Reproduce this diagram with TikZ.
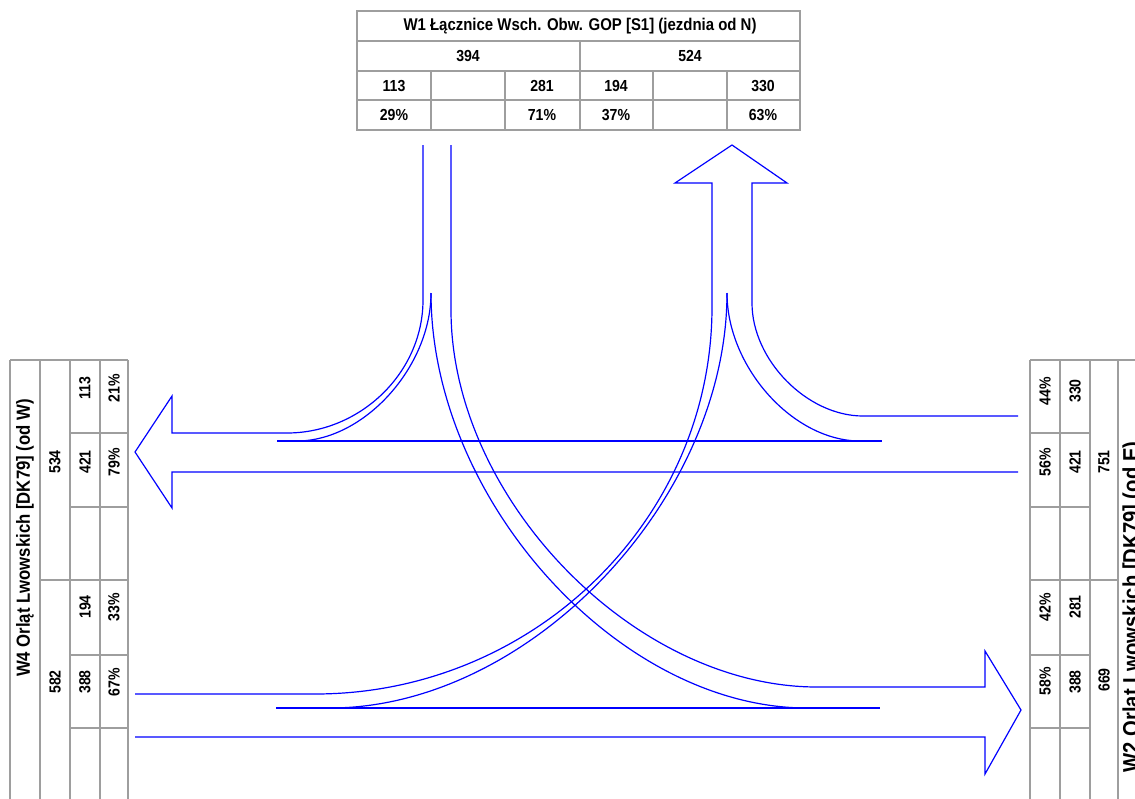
\documentclass[tikz,border=0pt]{standalone}
\usepackage{fontspec}
\setmainfont{Liberation Sans}[FakeStretch=0.88]

\begin{document}
\begin{tikzpicture}[
                  x = 1pt, y = -1pt,
                  font    = \bfseries\fontsize{16}{18}\selectfont,
                  tab/.style  = {line width=1.3pt, black!38},
                  pas/.style  = {line width=1.2pt, blue},
                  num/.style  = {inner sep=0pt},
                  rnum/.style = {inner sep=0pt, rotate=90},
                  tyt/.style  = {inner sep=0pt, font=\bfseries\fontsize{17}{19}\selectfont},
                  rtyt/.style = {inner sep=0pt, rotate=90, font=\bfseries\fontsize{19}{21}\selectfont}
            ]
            \useasboundingbox (0,0) rectangle (1135,798);
            \clip (0,0) rectangle (1135,798);

            % tabela wlotu W1 (od N)
            \draw[tab] (357,11) rectangle (800,130);
            \draw[tab] (357,41) -- (800,41) (357,71) -- (800,71) (357,100) -- (800,100);
            \draw[tab] (580,41) -- (580,130);
            \foreach \x in {431,505,653,727} \draw[tab] (\x,71) -- (\x,130);

            \node[tyt] (w1)    at (580,26) {W1 Łącznice Wsch. Obw. GOP [S1] (jezdnia od N)};
            \node[num] (w1we)  at (468,56) {394};
            \node[num] (w1wy)  at (690,56) {524};
            \node[num] (w1l)   at (394,86) {113};
            \node[num] (w1p)   at (542,86) {281};
            \node[num] (w1ln)  at (616,86) {194};
            \node[num] (w1pn)  at (763,86) {330};
            \node[num] (w1lp)  at (394,115) {29\%};
            \node[num] (w1pp)  at (542,115) {71\%};
            \node[num] (w1lnp) at (616,115) {37\%};
            \node[num] (w1pnp) at (763,115) {63\%};

            % tabela wlotu W4 (od W)
            \draw[tab] (10,360) -- (128,360);
            \foreach \x in {10,40,70,100,128} \draw[tab] (\x,360) -- (\x,800);
            \draw[tab] (40,580) -- (128,580);
            \foreach \y in {433,507,655,728} \draw[tab] (70,\y) -- (128,\y);

            \node[rtyt] (w4)   at (25,538) {W4 Orląt Lwowskich [DK79] (od W)};
            \node[rnum] (w4wy) at (55,462) {534};
            \node[rnum] (w4we) at (55,682) {582};
            \node[rnum] (w4a)  at (85,388) {113};
            \node[rnum] (w4b)  at (85,462) {421};
            \node[rnum] (w4c)  at (85,607) {194};
            \node[rnum] (w4d)  at (85,682) {388};
            \node[rnum] (w4ap) at (114,388) {21\%};
            \node[rnum] (w4bp) at (114,462) {79\%};
            \node[rnum] (w4cp) at (114,607) {33\%};
            \node[rnum] (w4dp) at (114,682) {67\%};

            % tabela wlotu W2 (od E)
            \draw[tab] (1030,360) -- (1135,360);
            \foreach \x in {1030,1060,1090,1118} \draw[tab] (\x,360) -- (\x,800);
            \draw[tab] (1030,580) -- (1118,580);
            \foreach \y in {433,507,655,728} \draw[tab] (1030,\y) -- (1090,\y);

            \node[rnum] (w2ap) at (1045,391) {44\%};
            \node[rnum] (w2bp) at (1045,462) {56\%};
            \node[rnum] (w2cp) at (1045,607) {42\%};
            \node[rnum] (w2dp) at (1045,681) {58\%};
            \node[rnum] (w2a)  at (1075,391) {330};
            \node[rnum] (w2b)  at (1075,462) {421};
            \node[rnum] (w2c)  at (1075,607) {281};
            \node[rnum] (w2d)  at (1075,682) {388};
            \node[rnum] (w2we) at (1104,462) {751};
            \node[rnum] (w2wy) at (1104,680) {669};
            \node[rtyt, anchor=base, font=\bfseries\fontsize{23}{25}\selectfont] (w2) at (1139,607)
                  {W2 Orląt Lwowskich [DK79] (od E)};

            % groty strzalek
            \coordinate (grotW) at (135,452);
            \coordinate (grotE) at (1021,710);
            \coordinate (grotN) at (732,145);

            % N -> W, strzalka na W, E -> W
            \draw[pas] (423,145) -- (423,300) .. controls +(0,73) and +(73,0) .. (287,433)
                  -- (172,433) -- (172,396) -- (grotW) -- (172,508) -- (172,472) -- (1018,472);
            % N -> E, strzalka na E, W -> E
            \draw[pas] (451,145) -- (451,310) .. controls +(0,188) and +(-183,0) .. (817,687)
                  -- (985,687) -- (985,651) -- (grotE) -- (985,774) -- (985,737) -- (135,737);
            % E -> N, strzalka na N, W -> N
            \draw[pas] (1018,416) -- (863,416) .. controls +(-56,0) and +(0,57) .. (752,303)
                  -- (752,183) -- (787,183) -- (grotN) -- (675,183) -- (712,183) -- (712,307)
                  .. controls +(0,213) and +(218,0) .. (315,694) -- (135,694);

            % linie podzialu pasm
            \draw[pas] (431,293) .. controls +(0,74) and +(67,0) .. (297,441);
            \draw[pas] (431,293) .. controls +(0,207) and +(-188,0) .. (807,708);
            \draw[pas] (727,293) .. controls +(0,207) and +(199,0) .. (330,708);
            \draw[pas] (727,293) .. controls +(0,74) and +(-67,0) .. (860,441);
            \draw[pas] (277,441) -- (882,441);
            \draw[pas] (276,708) -- (880,708);
      \end{tikzpicture}
\end{document}
